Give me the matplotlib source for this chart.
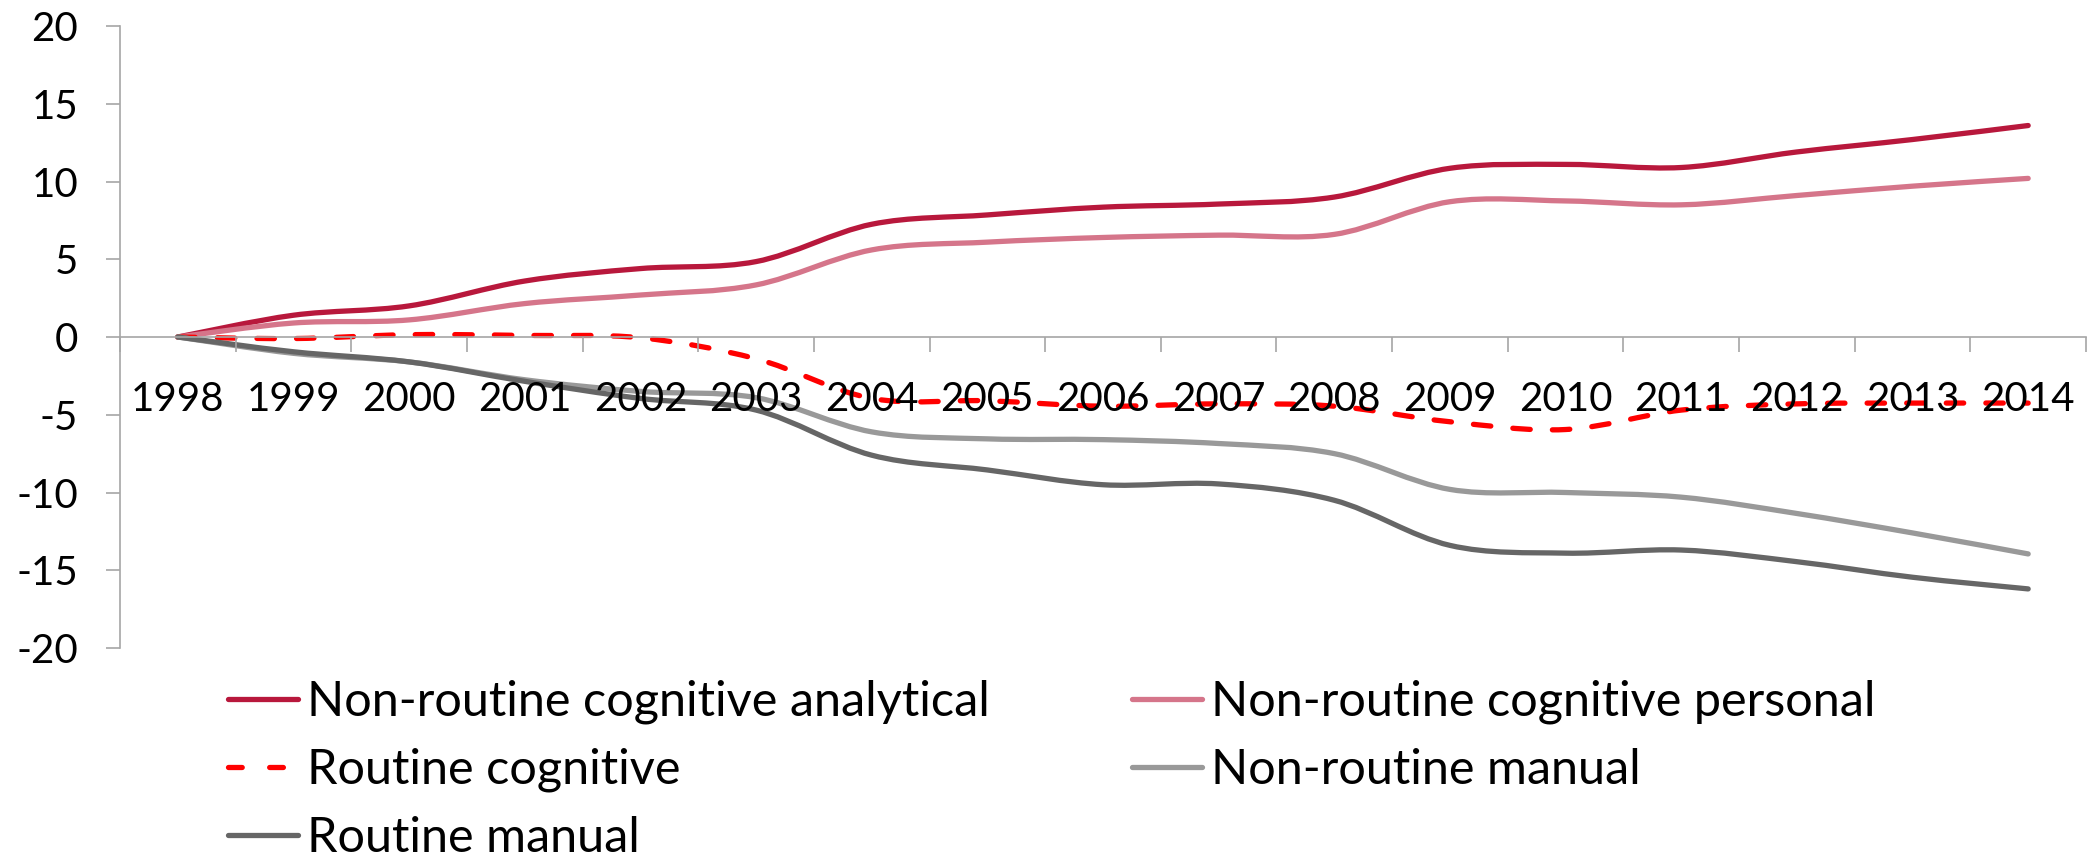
import matplotlib
matplotlib.use('Agg')
import matplotlib.pyplot as plt
import numpy as np
from matplotlib.path import Path
from matplotlib.patches import PathPatch
from matplotlib.lines import Line2D

plt.rcParams['font.family'] = ['Lato', 'DejaVu Sans']
plt.rcParams['axes.unicode_minus'] = False

years = list(range(1998, 2015))
nr_analytical = [0, 1.4, 2.0, 3.6, 4.4, 4.85, 7.25, 7.85, 8.35, 8.55, 9.0, 10.85, 11.1, 10.9, 11.9, 12.7, 13.6]
nr_personal = [0, 0.9, 1.1, 2.15, 2.7, 3.35, 5.6, 6.1, 6.4, 6.55, 6.6, 8.7, 8.75, 8.5, 9.1, 9.7, 10.2]
routine_cog = [0, -0.1, 0.15, 0.1, -0.05, -1.4, -3.95, -4.1, -4.45, -4.3, -4.45, -5.45, -5.95, -4.7, -4.3, -4.25, -4.25]
nr_manual = [0, -1.05, -1.6, -2.75, -3.5, -3.9, -6.1, -6.55, -6.6, -6.85, -7.5, -9.8, -10.0, -10.3, -11.35, -12.6, -13.95]
routine_manual = [0, -0.95, -1.6, -2.85, -3.95, -4.7, -7.6, -8.55, -9.5, -9.45, -10.5, -13.4, -13.9, -13.7, -14.45, -15.45, -16.2]

labels = ['Non-routine cognitive analytical', 'Non-routine cognitive personal',
          'Routine cognitive', 'Non-routine manual', 'Routine manual']
series = [nr_analytical, nr_personal, routine_cog, nr_manual, routine_manual]
colors = ['#B8183C', '#D5758A', '#FF0000', '#999999', '#666666']
styles = ['-', '-', '--', '-', '-']


def smooth_path(x, y):
    # Bezier path through the points, like a spreadsheet "smoothed line"
    p = np.column_stack([x, y]).astype(float)
    n = len(p)
    verts = [p[0]]
    codes = [Path.MOVETO]
    for i in range(n - 1):
        p0 = p[max(i - 1, 0)]
        p1 = p[i]
        p2 = p[i + 1]
        p3 = p[min(i + 2, n - 1)]
        c1 = p1 + (p2 - p0) / 6.0
        c2 = p2 - (p3 - p1) / 6.0
        verts += [c1, c2, p2]
        codes += [Path.CURVE4] * 3
    return Path(verts, codes)


fig = plt.figure(figsize=(20.94, 8.61), dpi=100)
ax = fig.add_axes([120 / 2094, 1 - 648 / 861, (2086 - 120) / 2094, (648 - 26) / 861])

lw = 3.8
for vals, c, ls in zip(series, colors, styles):
    patch = PathPatch(smooth_path(years, vals), facecolor='none', edgecolor=c,
                      lw=lw, capstyle='round', joinstyle='round')
    if ls == '--':
        patch.set_linestyle((0, (3.3, 4.2)))
    ax.add_patch(patch)

ax.set_xlim(1997.5, 2014.5)
ax.set_ylim(-20, 20)
ax.set_yticks(np.arange(-20, 21, 5))
ax.set_yticklabels([str(v) for v in range(-20, 21, 5)])

ax.set_xticks(np.arange(1997.5, 2015, 1.0))
ax.set_xticklabels([])
ax.set_xticks(years, minor=True)
ax.set_xticklabels([str(y) for y in years], minor=True)

for s in ['top', 'right']:
    ax.spines[s].set_visible(False)
ax.spines['bottom'].set_position(('data', 0))
for s in ['left', 'bottom']:
    ax.spines[s].set_color('#A6A6A6')
    ax.spines[s].set_linewidth(1.2)

ax.tick_params(axis='y', which='major', length=10, width=1.2, color='#A6A6A6',
               labelsize=29, pad=20, labelcolor='black')
ax.tick_params(axis='x', which='major', direction='out', length=11, width=1.2,
               color='#A6A6A6')
ax.tick_params(axis='x', which='minor', length=0, labelsize=29, pad=32,
               labelcolor='black')

handles = {}
for lab, c, ls in zip(labels, colors, styles):
    if ls == '--':
        handles[lab] = Line2D([], [], color=c, lw=lw, dashes=(2.6, 5.2),
                              dash_capstyle='round')
    else:
        handles[lab] = Line2D([], [], color=c, lw=lw, solid_capstyle='round')

fs = 35
fpx = fs * 100 / 72
order = [0, 2, 4, 1, 3]
leg = fig.legend([handles[labels[i]] for i in order], [labels[i] for i in order],
                 ncol=2, loc='upper left', bbox_to_anchor=(228 / 2094, 1 - 680 / 861),
                 frameon=False, borderpad=0, borderaxespad=0,
                 handlelength=70 / fpx, handletextpad=9 / fpx,
                 columnspacing=142 / fpx,
                 labelspacing=0.48, prop={'size': fs})

fig.savefig('out.png', dpi=100)
